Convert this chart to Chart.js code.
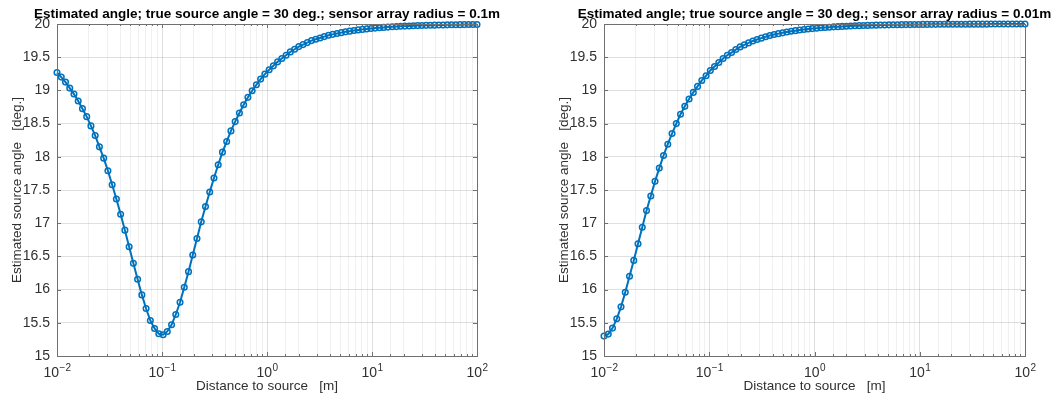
<!DOCTYPE html>
<html>
<head>
<meta charset="utf-8">
<script src="https://cdn.jsdelivr.net/npm/chart.js@4.4.1/dist/chart.umd.min.js"></script>
<style>
  html, body { margin: 0; padding: 0; background: #fff; overflow: hidden; }
  body { width: 1053px; height: 398px; position: relative; }
  canvas { position: absolute; top: 0; }
  #left  { left: 0; }
  #right { left: 547px; }
</style>
</head>
<body>
<canvas id="left" width="534" height="398"></canvas>
<canvas id="right" width="535" height="398"></canvas>
<script>
// -------- data --------
const distances = [
  0.01, 0.01098, 0.01205, 0.01322, 0.01451, 0.01592, 0.01748, 0.01918, 0.02105, 0.02310,
  0.02535, 0.02783, 0.03054, 0.03352, 0.03678, 0.04037, 0.04431, 0.04863, 0.05337, 0.05857,
  0.06428, 0.07055, 0.07743, 0.08498, 0.09326, 0.1024, 0.1123, 0.1233, 0.1353, 0.1485,
  0.1630, 0.1789, 0.1963, 0.2154, 0.2364, 0.2595, 0.2848, 0.3126, 0.3430, 0.3765,
  0.4132, 0.4535, 0.4977, 0.5462, 0.5995, 0.6579, 0.7221, 0.7925, 0.8697, 0.9545,
  1.048, 1.150, 1.262, 1.385, 1.520, 1.668, 1.831, 2.009, 2.205, 2.420,
  2.656, 2.915, 3.199, 3.511, 3.854, 4.229, 4.642, 5.094, 5.591, 6.136,
  6.734, 7.391, 8.111, 8.902, 9.770, 10.72, 11.77, 12.92, 14.17, 15.56,
  17.07, 18.74, 20.57, 22.57, 24.77, 27.19, 29.84, 32.75, 35.94, 39.44,
  43.29, 47.51, 52.14, 57.22, 62.80, 68.93, 75.65, 83.02, 91.12, 100
];

// radius = 0.1 m
const angleR010 = [
  19.27, 19.20, 19.125, 19.035, 18.945, 18.84, 18.725, 18.605, 18.465, 18.32,
  18.15, 17.98, 17.79, 17.58, 17.365, 17.135, 16.895, 16.645, 16.395, 16.155,
  15.92, 15.715, 15.535, 15.415, 15.335, 15.32, 15.37, 15.47, 15.625, 15.81,
  16.035, 16.27, 16.52, 16.77, 17.02, 17.25, 17.47, 17.68, 17.88, 18.07,
  18.23, 18.39, 18.53, 18.66, 18.785, 18.895, 18.995, 19.085, 19.17, 19.245,
  19.31, 19.37, 19.43, 19.48, 19.53, 19.58, 19.62, 19.66, 19.69, 19.72,
  19.75, 19.77, 19.79, 19.81, 19.83, 19.844, 19.858, 19.87, 19.882, 19.892,
  19.902, 19.911, 19.919, 19.926, 19.932, 19.938, 19.944, 19.949, 19.953, 19.958,
  19.961, 19.965, 19.968, 19.971, 19.973, 19.976, 19.978, 19.980, 19.982, 19.983,
  19.985, 19.986, 19.987, 19.988, 19.989, 19.990, 19.991, 19.992, 19.993, 19.993
];

// radius = 0.01 m
const angleR001 = [
  15.30, 15.33, 15.42, 15.56, 15.74, 15.96, 16.20, 16.44, 16.69, 16.94,
  17.19, 17.41, 17.63, 17.83, 18.02, 18.19, 18.35, 18.50, 18.64, 18.76,
  18.87, 18.97, 19.06, 19.15, 19.22, 19.30, 19.36, 19.42, 19.48, 19.53,
  19.57, 19.615, 19.655, 19.685, 19.715, 19.745, 19.767, 19.787, 19.807, 19.826,
  19.841, 19.855, 19.867, 19.879, 19.890, 19.900, 19.909, 19.917, 19.924, 19.931,
  19.937, 19.943, 19.948, 19.952, 19.957, 19.960, 19.964, 19.967, 19.970, 19.973,
  19.975, 19.977, 19.979, 19.981, 19.983, 19.984, 19.985, 19.987, 19.988, 19.989,
  19.990, 19.991, 19.991, 19.992, 19.993, 19.994, 19.994, 19.995, 19.995, 19.996,
  19.996, 19.996, 19.997, 19.997, 19.997, 19.997, 19.998, 19.998, 19.998, 19.998,
  19.998, 19.999, 19.999, 19.999, 19.999, 19.999, 19.999, 19.999, 19.999, 19.999
];

const titles = [
  "Estimated angle; true source angle = 30 deg.; sensor array radius = 0.1m",
  "Estimated angle; true source angle = 30 deg.; sensor array radius = 0.01m"
];
const xLabel = "Distance to source   [m]";
const yLabel = "Estimated source angle   [deg.]";

// -------- helpers --------
const FONT = "'Liberation Sans', Arial, Helvetica, sans-serif";
const BLUE = "#0072BD";
const TXT = "#303030";
const isDecade = (v) => Math.abs(Math.log10(v) - Math.round(Math.log10(v))) < 1e-6;

// box, inward ticks, 10^n labels and the title, MATLAB style
const axesBox = {
  id: "axesBox",
  afterDraw(chart) {
    const { ctx, chartArea: a, scales } = chart;
    ctx.save();
    ctx.strokeStyle = "#707070";
    ctx.lineWidth = 1;
    ctx.beginPath();
    for (const t of scales.y.ticks) {
      const py = Math.round(scales.y.getPixelForValue(t.value)) + 0.5;
      ctx.moveTo(a.left, py); ctx.lineTo(a.left + 4, py);
      ctx.moveTo(a.right, py); ctx.lineTo(a.right - 4, py);
    }
    for (const t of scales.x.ticks) {
      const px = Math.round(scales.x.getPixelForValue(t.value)) + 0.5;
      const len = isDecade(t.value) ? 4 : 2;
      ctx.moveTo(px, a.bottom); ctx.lineTo(px, a.bottom - len);
      ctx.moveTo(px, a.top); ctx.lineTo(px, a.top + len);
    }
    ctx.stroke();
    ctx.strokeRect(Math.round(a.left) + 0.5, Math.round(a.top) + 0.5,
                   Math.round(a.right - a.left), Math.round(a.bottom - a.top));

    // decade labels: "10" with a raised exponent
    ctx.fillStyle = TXT;
    ctx.textBaseline = "alphabetic";
    ctx.textAlign = "left";
    for (const t of scales.x.ticks) {
      if (!isDecade(t.value)) continue;
      const px = scales.x.getPixelForValue(t.value);
      const base = "10", exp = String(Math.round(Math.log10(t.value))).replace("-", "\u2212");
      ctx.font = `14px ${FONT}`;
      const w1 = ctx.measureText(base).width;
      ctx.font = `10px ${FONT}`;
      const w2 = ctx.measureText(exp).width;
      const x0 = px - (w1 + w2) / 2;
      ctx.font = `14px ${FONT}`;
      ctx.fillText(base, x0, a.bottom + 21);
      ctx.font = `10px ${FONT}`;
      ctx.fillText(exp, x0 + w1 + 0.5, a.bottom + 15);
    }

    // title centred over the axes
    ctx.fillStyle = "#000";
    ctx.font = `bold 13.5px ${FONT}`;
    ctx.textAlign = "center";
    ctx.fillText(chart.options.plugins.axesBox.text, (a.left + a.right) / 2, 17.5);
    ctx.restore();
  }
};

function makeChart(canvasId, values, title) {
  const el = document.getElementById(canvasId);
  const data = distances.map((x, i) => ({ x, y: values[i] }));
  return new Chart(el.getContext("2d"), {
    type: "line",
    data: {
      datasets: [{
        data,
        borderColor: BLUE,
        borderWidth: 2,
        pointRadius: 2.8,
        pointBorderWidth: 1.5,
        pointBorderColor: BLUE,
        pointBackgroundColor: "rgba(0,0,0,0)",
        tension: 0,
        clip: false
      }]
    },
    options: {
      responsive: false,
      animation: false,
      devicePixelRatio: 1,
      layout: { padding: { left: 0, right: 57, top: 24, bottom: 0 } },
      plugins: {
        legend: { display: false },
        tooltip: { enabled: false },
        title: { display: false },
        axesBox: { text: title }
      },
      scales: {
        x: {
          type: "logarithmic",
          min: 0.01,
          max: 100,
          border: { display: false },
          grid: {
            drawTicks: false,
            color: (c) => isDecade(c.tick.value) ? "rgba(38,38,38,0.15)" : "rgba(38,38,38,0.07)"
          },
          ticks: {
            autoSkip: false,
            maxRotation: 0,
            padding: 6,
            font: { family: FONT, size: 14 },
            callback: () => ""
          },
          title: {
            display: true,
            text: xLabel,
            color: TXT,
            font: { family: FONT, size: 13.5 },
            padding: { top: 2, bottom: 4 }
          },
          afterFit: (s) => { s.height = 42; }
        },
        y: {
          min: 15,
          max: 20,
          border: { display: false },
          grid: { drawTicks: false, color: "rgba(38,38,38,0.15)" },
          ticks: {
            stepSize: 0.5,
            padding: 7,
            color: TXT,
            font: { family: FONT, size: 14 },
            callback: (v) => Number.isInteger(v) ? String(v) : v.toFixed(1)
          },
          title: {
            display: true,
            text: yLabel,
            color: TXT,
            font: { family: FONT, size: 13.5 },
            padding: { top: 9, bottom: 2 }
          },
          afterFit: (s) => { s.width = 57; }
        }
      }
    },
    plugins: [axesBox]
  });
}

makeChart("left", angleR010, titles[0]);
makeChart("right", angleR001, titles[1]);
</script>
</body>
</html>
